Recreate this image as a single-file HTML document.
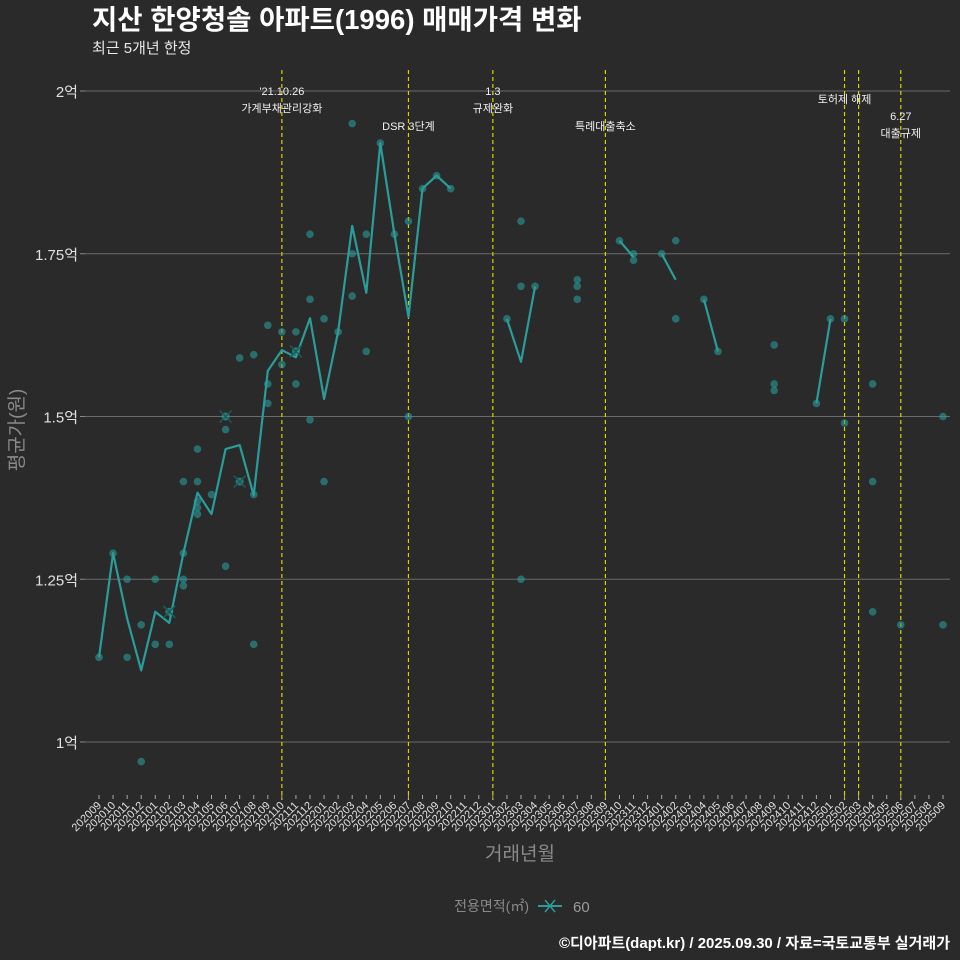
<!DOCTYPE html>
<html><head><meta charset="utf-8">
<style>
html,body{margin:0;padding:0;background:#2a2a2a;}
svg{display:block;font-family:"Liberation Sans","Noto Sans CJK KR",sans-serif;}
</style></head>
<body>
<svg id="chart" width="960" height="960" viewBox="0 0 960 960">
<rect width="960" height="960" fill="#2a2a2a"/>
<text x="92" y="29" fill="#ffffff" font-size="27.5" font-weight="bold">지산 한양청솔 아파트(1996) 매매가격 변화</text>
<text x="92" y="53" fill="#e8e8e8" font-size="15">최근 5개년 한정</text>
<g id="grid"></g>
<g id="vlines"></g>
<g id="marks"></g>
<g id="xaxis"></g>
<text x="520" y="860" fill="#8a8a8a" font-size="19" text-anchor="middle">거래년월</text>
<text transform="translate(23,430) rotate(-90)" fill="#8a8a8a" font-size="19" text-anchor="middle">평균가(원)</text>
<g>
<text x="529" y="911" fill="#8a8a8a" font-size="14" text-anchor="end">전용면적(㎡)</text>
<g>
<line x1="538" y1="906" x2="562" y2="906" stroke="#2a9d9a" stroke-width="2"/>
<path d="M545 900 L555 912 M555 900 L545 912" stroke="#2a9d9a" stroke-width="1.5"/>
<text x="573" y="912" fill="#9a9a9a" font-size="15">60</text>
</g>
</g>
<text x="950" y="948" fill="#ffffff" font-size="15" font-weight="bold" text-anchor="end">©디아파트(dapt.kr) / 2025.09.30 / 자료=국토교통부 실거래가</text>
</svg>
<script>
const months = [];
for (let y = 2020, m = 9; !(y === 2025 && m === 10); ) { months.push(String(y) + String(m).padStart(2, '0')); m++; if (m > 12) { m = 1; y++; } }
const yTicks = [1, 1.25, 1.5, 1.75, 2];
const yTickLabels = ['1억', '1.25억', '1.5억', '1.75억', '2억'];
// average line (null = gap)
const lineIdx = [0,1,2,3,4,5,6,7,8,9,10,11,12,13,14,15,16,17,18,19,20,21,22,23,24,25,null,29,30,31,null,37,38,null,40,41,null,43,44,null,51,52];
const lineVal = [1.13,1.29,1.19,1.11,1.20,1.183,1.29,1.383,1.35,1.45,1.456,1.379,1.57,1.602,1.591,1.651,1.527,1.63,1.793,1.69,1.92,1.78,1.653,1.85,1.87,1.85,null,1.65,1.584,1.70,null,1.77,1.745,null,1.75,1.71,null,1.68,1.60,null,1.52,1.65];
const dotIdx = [0,1,2,2,3,3,4,4,5,6,6,6,6,7,7,7,7,7,8,9,9,10,11,11,11,12,12,12,13,13,14,14,15,15,15,16,16,17,18,18,18,19,19,20,21,22,22,23,24,25,29,30,30,30,31,34,34,34,37,38,38,40,41,41,43,44,48,48,48,51,52,53,53,55,55,55,57,60,60];
const dotVal = [1.13,1.29,1.25,1.13,1.18,0.97,1.25,1.15,1.15,1.40,1.29,1.25,1.24,1.45,1.40,1.37,1.36,1.35,1.38,1.48,1.27,1.59,1.595,1.38,1.15,1.64,1.55,1.52,1.63,1.58,1.63,1.55,1.78,1.68,1.495,1.65,1.40,1.63,1.95,1.75,1.685,1.78,1.60,1.92,1.78,1.80,1.50,1.85,1.87,1.85,1.65,1.80,1.70,1.25,1.70,1.71,1.70,1.68,1.77,1.75,1.74,1.75,1.77,1.65,1.68,1.60,1.61,1.55,1.54,1.52,1.65,1.65,1.49,1.55,1.40,1.20,1.18,1.50,1.18];
const crossIdx = [5,9,10,14];
const crossVal = [1.20,1.50,1.40,1.60];
const eventIdx = [13,22,28,36,53,54,57];
const eventLabels = [["'21.10.26","가계부채관리강화"],["","DSR 3단계"],["1.3","규제완화"],["","특례대출축소"],["토허제 해제"],[],["6.27","대출규제"]];

const NS = 'http://www.w3.org/2000/svg';
const X = i => 99 + i * (844 / 60);
const Y = v => 742 - (v - 1) * 651;
function mk(tag, attrs, parent) { const e = document.createElementNS(NS, tag); for (const k in attrs) e.setAttribute(k, attrs[k]); parent.appendChild(e); return e; }

const grid = document.getElementById('grid');
yTicks.forEach((t, k) => {
  const g = mk('line', {x1: 85, x2: 950, y1: Y(t), y2: Y(t), stroke: '#6a6a6a', 'stroke-width': 1}, grid);
  
  
  mk('line', {x1: 80, x2: 85, y1: Y(t), y2: Y(t), stroke: '#888'}, grid);
  const lb = mk('text', {x: 78, y: Y(t) + 6, fill: '#e0e0e0', 'font-size': 15, 'text-anchor': 'end'}, grid);
  lb.textContent = yTickLabels[k];
  
  
});

const vl = document.getElementById('vlines');
eventIdx.forEach((i, k) => {
  const l = mk('line', {x1: X(i), x2: X(i), y1: 70, y2: 800, stroke: '#d4d400', 'stroke-width': 1.2, 'stroke-dasharray': '4,3'}, vl);
  
  
  const labs = eventLabels[k];
  let ys;
  if (k === 1 || k === 3) ys = [0, 130];
  else if (k === 4) ys = [103];
  else if (k === 6) ys = [120, 137];
  else ys = [95, 112];
  labs.forEach((s, j) => {
    if (!s) return;
    const t = mk('text', {x: X(i), y: ys[j], fill: '#f0f0f0', 'font-size': 11, 'text-anchor': 'middle'}, vl);
    t.textContent = s;
    
    
  });
});

const marks = document.getElementById('marks');
dotIdx.forEach((i, k) => {
  const c = mk('circle', {cx: X(i), cy: Y(dotVal[k]), r: 3.8, fill: '#2a9d9a', 'fill-opacity': 0.6}, marks);
  
  
});
let d = '', pen = false;
lineIdx.forEach((i, k) => {
  if (i === null) { pen = false; return; }
  d += (pen ? 'L' : 'M') + X(i).toFixed(1) + ' ' + Y(lineVal[k]).toFixed(1) + ' ';
  pen = true;
});
const p = mk('path', {d: d, fill: 'none', stroke: '#2a9d9a', 'stroke-width': 2.2, 'stroke-linejoin': 'round'}, marks);


crossIdx.forEach((i, k) => {
  const x = X(i), y = Y(crossVal[k]);
  const dot = mk('circle', {cx: x, cy: y, r: 4, fill: '#2a9d9a', 'fill-opacity': 0.7}, marks);
  
  
  const c = mk('path', {d: `M${x-6} ${y-6} L${x+6} ${y+6} M${x+6} ${y-6} L${x-6} ${y+6}`, stroke: '#1a5c5a', 'stroke-width': 1.5}, marks);
  
  
});

const xa = document.getElementById('xaxis');
months.forEach((m, i) => {
  mk('line', {x1: X(i), x2: X(i), y1: 795, y2: 799, stroke: '#aaa'}, xa);
  const t = mk('text', {x: X(i) + 3, y: 806, fill: '#e0e0e0', 'font-size': 11, 'text-anchor': 'end', transform: `rotate(-45 ${X(i)+3} 806)`}, xa);
  t.textContent = m;
  
  
});
</script>
</body></html>
